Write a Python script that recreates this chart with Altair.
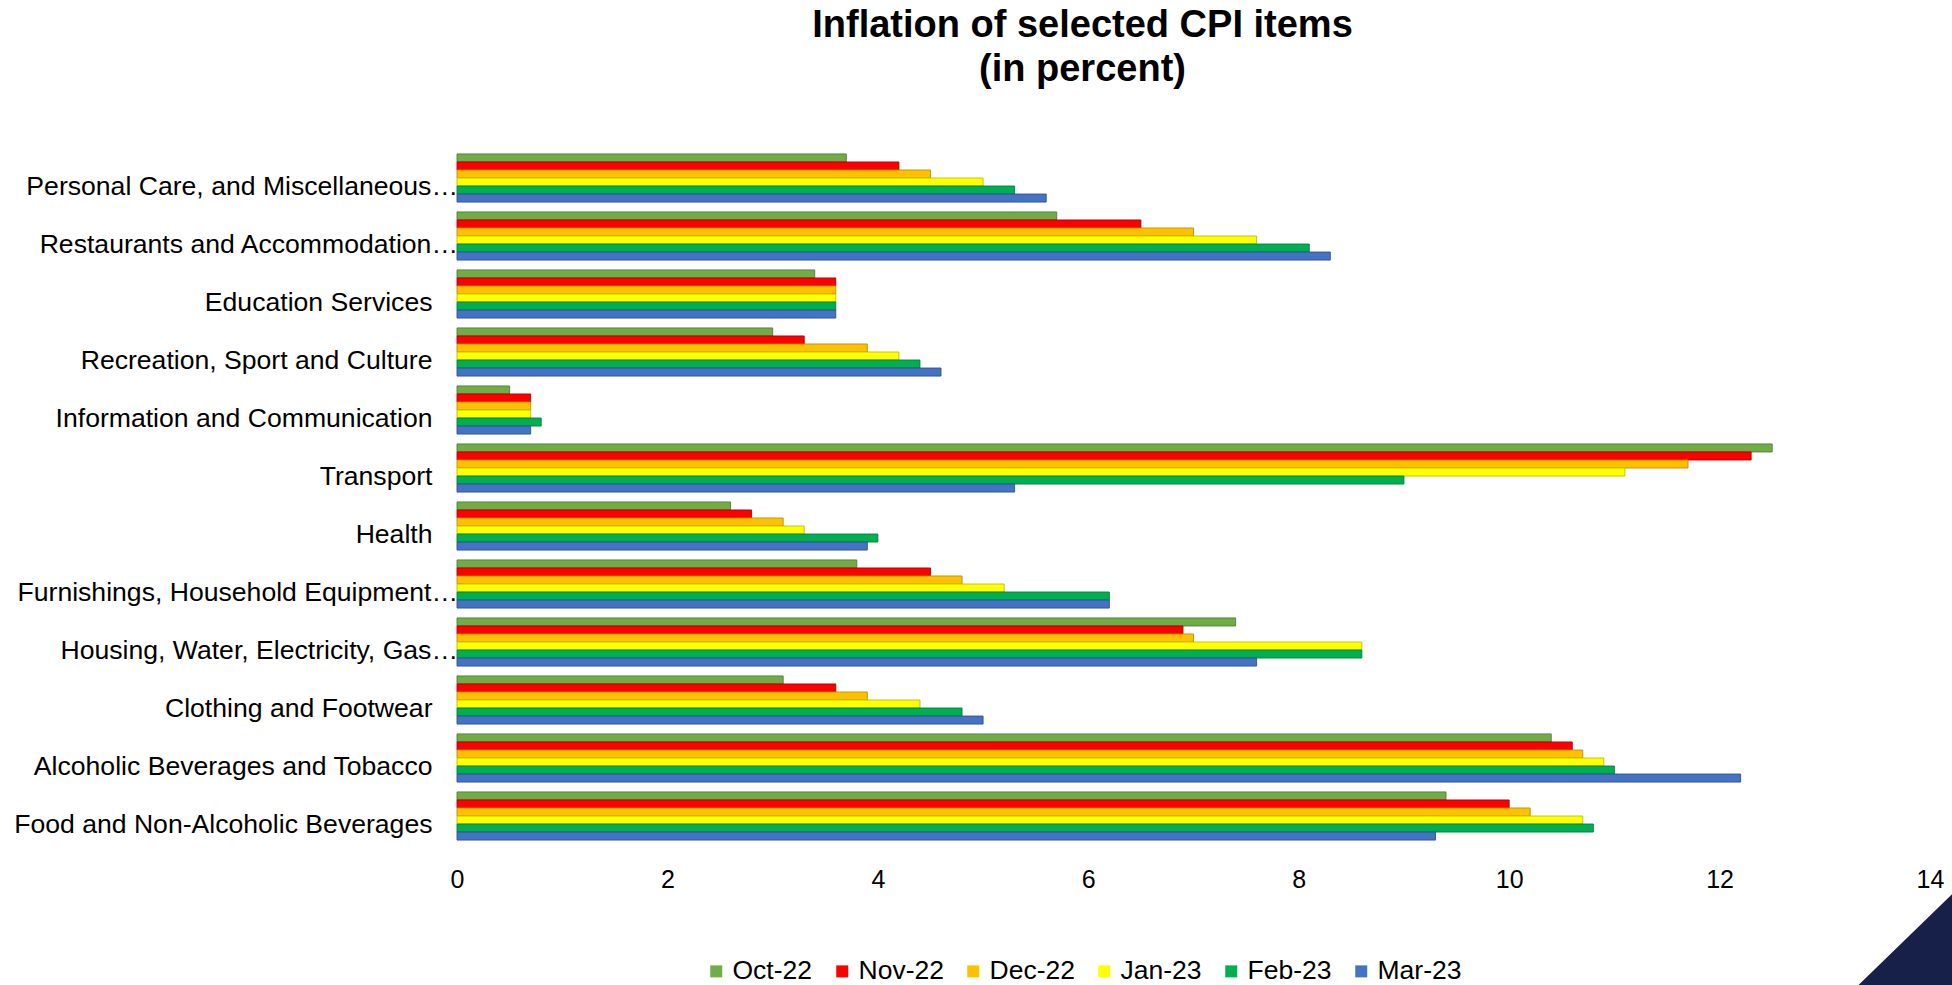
import altair as alt
import pandas as pd

# CPI groups, top to bottom as drawn
items = [
    "Personal Care, and Miscellaneous…",
    "Restaurants and Accommodation…",
    "Education Services",
    "Recreation, Sport and Culture",
    "Information and Communication",
    "Transport",
    "Health",
    "Furnishings, Household Equipment…",
    "Housing, Water, Electricity, Gas…",
    "Clothing and Footwear",
    "Alcoholic Beverages and Tobacco",
    "Food and Non-Alcoholic Beverages",
]

months = ["Oct-22", "Nov-22", "Dec-22", "Jan-23", "Feb-23", "Mar-23"]

# year-on-year inflation (percent), one list per month, in the order of `items`
oct_22 = [3.7, 5.7, 3.4, 3.0, 0.5, 12.5, 2.6, 3.8, 7.4, 3.1, 10.4, 9.4]
nov_22 = [4.2, 6.5, 3.6, 3.3, 0.7, 12.3, 2.8, 4.5, 6.9, 3.6, 10.6, 10.0]
dec_22 = [4.5, 7.0, 3.6, 3.9, 0.7, 11.7, 3.1, 4.8, 7.0, 3.9, 10.7, 10.2]
jan_23 = [5.0, 7.6, 3.6, 4.2, 0.7, 11.1, 3.3, 5.2, 8.6, 4.4, 10.9, 10.7]
feb_23 = [5.3, 8.1, 3.6, 4.4, 0.8, 9.0, 4.0, 6.2, 8.6, 4.8, 11.0, 10.8]
mar_23 = [5.6, 8.3, 3.6, 4.6, 0.7, 5.3, 3.9, 6.2, 7.6, 5.0, 12.2, 9.3]

series = [oct_22, nov_22, dec_22, jan_23, feb_23, mar_23]

fill_colors = ["#70AD47", "#FF0000", "#FFC000", "#FFFF00", "#00B050", "#4472C4"]
edge_colors = ["#507E32", "#B00000", "#BF9000", "#BFBF00", "#00803A", "#2F528F"]

rows = []
for month, values in zip(months, series):
    for item, v in zip(items, values):
        rows.append({"item": item, "month": month, "value": v})
df = pd.DataFrame(rows)

# shortened category names (ending in an ellipsis) run right up to the bars
clipped = pd.DataFrame({"item": [s for s in items if s.endswith("…")]})

FONT = "Liberation Sans"
LABEL_SIZE = 26.6
LABEL_SHIFT = 9

y_enc = alt.Y(
    "item:N",
    sort=items,
    title=None,
    scale=alt.Scale(domain=items, paddingInner=0.17, paddingOuter=0.085),
    axis=alt.Axis(
        domain=False,
        ticks=False,
        labelFontSize=LABEL_SIZE,
        labelFont=FONT,
        labelColor="#000000",
        labelPadding=25,
        labelOffset=LABEL_SHIFT,
        labelLimit=600,
        labelExpr="slice(datum.value, -1) == '…' ? '' : datum.label",
    ),
)

bars = (
    alt.Chart(df)
    .mark_bar(strokeWidth=1, strokeOpacity=0.9)
    .encode(
        y=y_enc,
        yOffset=alt.YOffset("month:N", sort=months, scale=alt.Scale(paddingInner=0)),
        x=alt.X(
            "value:Q",
            title=None,
            scale=alt.Scale(domain=[0, 14], nice=False),
            axis=alt.Axis(
                values=[0, 2, 4, 6, 8, 10, 12, 14],
                domain=False,
                ticks=False,
                grid=False,
                labelFontSize=25,
                labelFont=FONT,
                labelColor="#000000",
                labelPadding=22,
                labelFlush=False,
            ),
        ),
        color=alt.Color(
            "month:N",
            sort=months,
            scale=alt.Scale(domain=months, range=fill_colors),
            legend=alt.Legend(
                title=None,
                orient="none",
                direction="horizontal",
                legendX=246,
                legendY=809,
                symbolType="square",
                symbolSize=144,
                symbolStrokeWidth=0,
                labelFontSize=26.5,
                labelFont=FONT,
                labelColor="#000000",
                labelOffset=3,
                columnPadding=16,
                padding=0,
            ),
        ),
        stroke=alt.Stroke(
            "month:N",
            sort=months,
            scale=alt.Scale(domain=months, range=edge_colors),
            legend=None,
        ),
    )
)

clipped_labels = (
    alt.Chart(clipped)
    .mark_text(
        align="right",
        baseline="middle",
        font=FONT,
        fontSize=LABEL_SIZE,
        color="#000000",
        dx=1,
        dy=LABEL_SHIFT,
    )
    .encode(y=alt.Y("item:N", sort=items), x=alt.value(0), text="item:N")
)

# navy corner accent of the slide
corner = (
    alt.Chart(pd.DataFrame({"k": [0]}))
    .mark_point(
        shape="M -1 1 L 1 -0.94 L 1 1 Z",
        filled=True,
        color="#172048",
        opacity=1,
        size=9025,
    )
    .encode(x=alt.value(1447.5), y=alt.value(790))
)

chart = (
    alt.layer(bars, clipped_labels, corner)
    .properties(
        width=1473,
        height=696,
        background="#FFFFFF",
        autosize=alt.AutoSizeParams(type="none"),
        padding={"left": 457, "top": 149, "right": 22, "bottom": 140},
        title=alt.Title(
            ["Inflation of selected CPI items", "(in percent)"],
            font=FONT,
            fontSize=38,
            fontWeight="bold",
            color="#000000",
            lineHeight=44,
            anchor="middle",
            dx=-111,
            offset=60,
        ),
    )
    .configure_view(strokeWidth=0, stroke="transparent")
)

chart.save("out.html", embed_options={"renderer": "svg", "actions": False})
